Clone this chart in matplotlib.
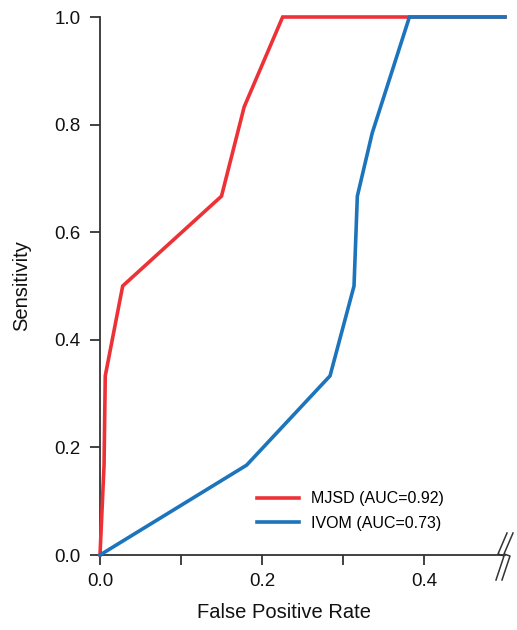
"""ROUGH recreation of the MJSD vs IVOM ROC figure."""

import matplotlib

matplotlib.use("Agg")
import matplotlib.pyplot as plt

plt.rcParams["font.family"] = ["Liberation Sans", "DejaVu Sans"]

# ROC points
mjsd_fpr = [0.0, 0.005, 0.0065, 0.028, 0.150, 0.178, 0.2255, 0.5]
mjsd_tpr = [0.0, 0.167, 0.333, 0.500, 0.667, 0.833, 1.0, 1.0]
ivom_fpr = [0.0, 0.181, 0.284, 0.3136, 0.3177, 0.336, 0.382, 0.5]
ivom_tpr = [0.0, 0.167, 0.333, 0.500, 0.667, 0.784, 1.0, 1.0]

labels = ["MJSD (AUC=0.92)", "IVOM (AUC=0.73)"]
colors = ["#ED3237", "#1C75BC"]

x_major = [0.0, 0.2, 0.4]
x_minor = [0.1, 0.3]
y_ticks = [0.0, 0.2, 0.4, 0.6, 0.8, 1.0]

axis_color = "#333333"

fig = plt.figure(figsize=(5.17, 6.30), dpi=100)
ax = fig.add_axes([100 / 517, 75 / 630, 405 / 517, 538 / 630])

ax.plot(mjsd_fpr, mjsd_tpr, color=colors[0], lw=2.6, label=labels[0], clip_on=False,
        solid_joinstyle="miter", zorder=3)
ax.plot(ivom_fpr, ivom_tpr, color=colors[1], lw=2.6, label=labels[1], clip_on=False,
        solid_joinstyle="miter", zorder=3)

ax.set_xlim(0, 0.5)
ax.set_ylim(0, 1.0)
ax.set_xticks(x_major)
ax.set_xticks(x_minor, minor=True)
ax.set_xticklabels([f"{v:.1f}" for v in x_major])
ax.set_yticks(y_ticks)
ax.set_yticklabels([f"{v:.1f}" for v in y_ticks])

for side in ("top", "right"):
    ax.spines[side].set_visible(False)
for side in ("left", "bottom"):
    ax.spines[side].set_color(axis_color)
    ax.spines[side].set_linewidth(1.3)

ax.tick_params(axis="both", which="both", direction="out", length=7, width=1.3,
               color=axis_color, labelsize=13.5, labelcolor="#111111")
ax.tick_params(axis="x", pad=6)
ax.tick_params(axis="y", pad=7)

ax.set_xlabel("False Positive Rate", fontsize=14.5, color="#111111")
ax.set_ylabel("Sensitivity", fontsize=14.5, color="#111111")
ax.xaxis.set_label_coords(0.454, -0.09)
ax.yaxis.set_label_coords(-0.17, 0.5)

ax.legend(loc="center left", bbox_to_anchor=(0.388, 0.082), frameon=False,
          fontsize=11.5, handlelength=2.6, handletextpad=0.8, labelspacing=0.6,
          borderpad=0, borderaxespad=0)

# axis break mark (two lightning strokes) at the right end of the x axis
end_x, end_y = ax.transData.transform((0.5, 0.0))
zig_dx = [8, -1, 5, -3]
zig_dy = [22, 1, -1, -25]
for shift in (-6, 0):
    fx = [(end_x + shift + dx) / fig.bbox.width for dx in zig_dx]
    fy = [(end_y + dy) / fig.bbox.height for dy in zig_dy]
    fig.add_artist(plt.Line2D(fx, fy, transform=fig.transFigure, color=axis_color,
                              lw=1.1))

fig.savefig("out.png", dpi=100)
